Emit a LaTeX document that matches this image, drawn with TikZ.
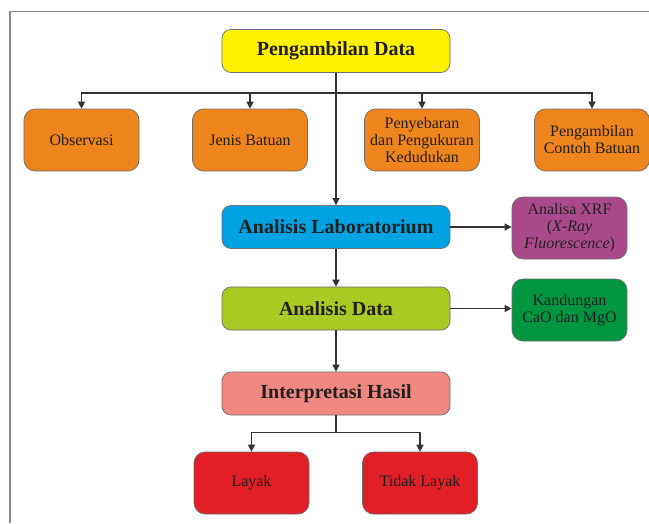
\documentclass[tikz,border=0pt]{standalone}
\usepackage{fontspec}
\setmainfont{Liberation Serif}
\usetikzlibrary{arrows.meta}
\definecolor{txt}{HTML}{231F20}
\definecolor{cyellow}{HTML}{FFF200}
\definecolor{corange}{HTML}{EE851C}
\definecolor{cblue}{HTML}{00A3E2}
\definecolor{cpurple}{HTML}{AA4A8C}
\definecolor{clime}{HTML}{A9C923}
\definecolor{cgreen}{HTML}{00963F}
\definecolor{csalmon}{HTML}{EF8880}
\definecolor{cred}{HTML}{E21E27}
\definecolor{cline}{HTML}{333333}
\definecolor{cborder}{HTML}{6D6E70}
\definecolor{cframe}{HTML}{8A8A8A}
\tikzset{
  mainbox/.style={draw=cborder, line width=0.7pt, rounded corners=9pt,
    minimum width=228pt, minimum height=43pt, inner sep=0pt, text=txt,
    font=\fontsize{20}{22}\selectfont\bfseries},
  subbox/.style={draw=cborder, line width=0.7pt, rounded corners=11pt,
    minimum width=115pt, minimum height=62pt, inner sep=0pt, text=txt, align=center,
    font=\fontsize{16}{17}\selectfont},
  arr/.style={draw=cline, line width=1.4pt, -{Triangle[width=7pt,length=7pt]}}
}
\begin{document}
\begin{tikzpicture}[x=1pt,y=-1pt]
\useasboundingbox (0,0) rectangle (649,523);
\fill[white] (0,0) rectangle (649,523);
\draw[cframe, line width=1.2pt] (10,523) -- (10,11.5) -- (649,11.5);

\node[mainbox, fill=cyellow] (pd) at (336,51) {Pengambilan Data};
\node[subbox, fill=corange] (obs) at (81.5,140) {Observasi};
\node[subbox, fill=corange] (jen) at (250,140) {Jenis Batuan};
\node[subbox, fill=corange] (pen) at (422,140) {Penyebaran\\dan Pengukuran\\Kedudukan};
\node[subbox, fill=corange] (con) at (592,140) {Pengambilan\\Contoh Batuan};

\node[mainbox, fill=cblue] (lab) at (336,227) {Analisis Laboratorium};
\node[subbox, fill=cpurple] (xrf) at (569.5,228) {Analisa XRF\\(\textit{X-Ray}\\\textit{Fluorescence})};

\node[mainbox, fill=clime] (dat) at (336,308.5) {Analisis Data};
\node[subbox, fill=cgreen] (kan) at (569.5,310) {Kandungan\\CaO dan MgO};

\node[mainbox, fill=csalmon] (int) at (336,393.5) {Interpretasi Hasil};
\node[subbox, fill=cred] (lay) at (251.5,483) {Layak};
\node[subbox, fill=cred] (tid) at (420,483) {Tidak Layak};

\draw[arr] (pd.south) -- (lab.north);
\draw[arr] (pd.south) -- ++(0,20) -| (obs.north);
\draw[arr] (pd.south) -- ++(0,20) -| (jen.north);
\draw[arr] (pd.south) -- ++(0,20) -| (pen.north);
\draw[arr] (pd.south) -- ++(0,20) -| (con.north);
\draw[arr] (lab.east) -- (xrf.west |- lab.east);
\draw[arr] (lab.south) -- (dat.north);
\draw[arr] (dat.east) -- (kan.west |- dat.east);
\draw[arr] (dat.south) -- (int.north);
\draw[arr] (int.south) -- ++(0,17) -| (lay.north);
\draw[arr] (int.south) -- ++(0,17) -| (tid.north);
\end{tikzpicture}
\end{document}
